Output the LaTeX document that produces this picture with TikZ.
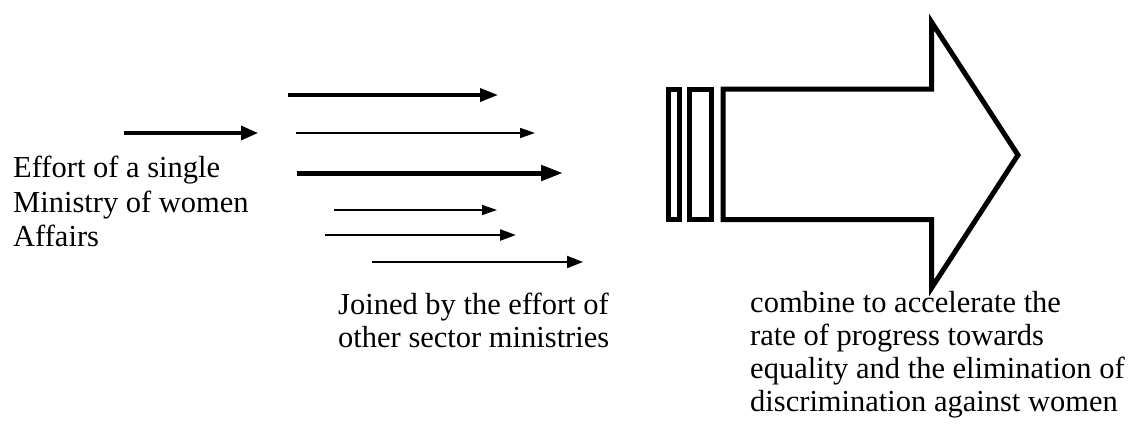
\documentclass[tikz,border=0pt]{standalone}
\usepackage{fontspec}
\setmainfont{Liberation Serif}
\usetikzlibrary{arrows.meta}
\begin{document}
\begin{tikzpicture}[x=1pt,y=-1pt,
  txt/.style={anchor=base west, inner sep=0pt, font=\fontsize{30.5}{36}\selectfont},
  ar/.style args={#1/#2/#3}{line width=#1pt, -{Triangle[length=#2pt,width=#3pt]}},
  big/.style={line width=5pt, line join=miter}]
\useasboundingbox (0,0) rectangle (1130,424);
% small arrows
\coordinate (aS) at (124,133); \coordinate (aE) at (258,133);
\coordinate (b1S) at (288,95);  \coordinate (b1E) at (498,95);
\coordinate (b2S) at (296,133); \coordinate (b2E) at (535,133);
\coordinate (b3S) at (297,173); \coordinate (b3E) at (563,173);
\coordinate (b4S) at (334,210); \coordinate (b4E) at (497,210);
\coordinate (b5S) at (325,235); \coordinate (b5E) at (516,235);
\coordinate (b6S) at (372,262); \coordinate (b6E) at (583,262);
\draw[ar=3.2/17/14] (aS) -- (aE);
\draw[ar=3.5/18/13] (b1S) -- (b1E);
\draw[ar=1.6/15/10] (b2S) -- (b2E);
\draw[ar=5/22/15] (b3S) -- (b3E);
\draw[ar=1.6/15/10] (b4S) -- (b4E);
\draw[ar=2.5/16/11] (b5S) -- (b5E);
\draw[ar=2/16/12] (b6S) -- (b6E);
% big arrow
\draw[big] (668.5,89) rectangle (679.5,219.5);
\draw[big] (689.8,89) rectangle (711.5,219.5);
\draw[big] (723,89) -- (931.5,89) -- (931.5,22) -- (1018,155) -- (931.5,288) -- (931.5,219.5) -- (723,219.5) -- cycle;
% texts
\node[txt] (l1) at (13,177) {Effort of a single};
\node[txt] (l2) at (13,212) {Ministry of women};
\node[txt] (l3) at (13,246) {Affairs};
\node[txt] (m1) at (338,314) {Joined by the effort of};
\node[txt] (m2) at (338,347) {other sector ministries};
\node[txt] (r1) at (750,312) {combine to accelerate the};
\node[txt] (r2) at (750,345) {rate of progress towards};
\node[txt] (r3) at (750,378) {equality and the elimination of};
\node[txt] (r4) at (750,411) {discrimination against women};
\end{tikzpicture}
\end{document}
